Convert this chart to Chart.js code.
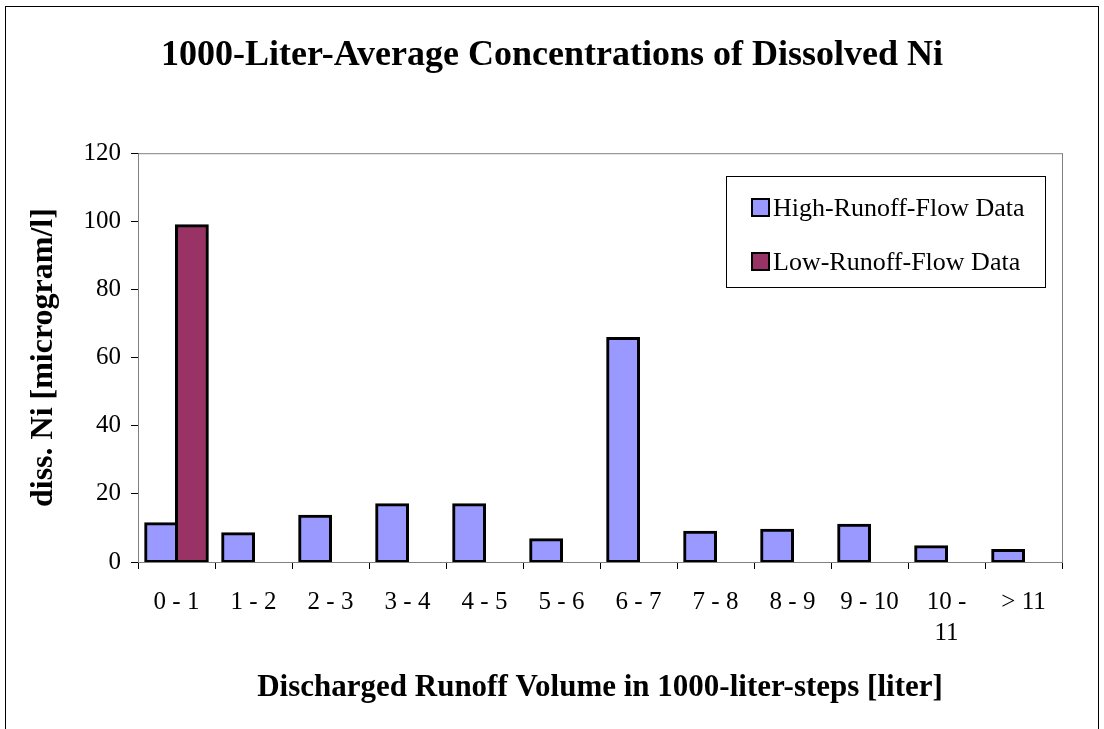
<!DOCTYPE html>
<html>
<head>
<meta charset="utf-8">
<script src="https://cdn.jsdelivr.net/npm/chart.js@4"></script>
<style>
  html, body { margin: 0; padding: 0; background: #fff; }
  #wrap { width: 1104px; height: 729px; position: relative; }
</style>
</head>
<body>
<div id="wrap"><canvas id="niChart"></canvas></div>
<script>
  const categories = ['0 - 1', '1 - 2', '2 - 3', '3 - 4', '4 - 5', '5 - 6', '6 - 7', '7 - 8', '8 - 9', '9 - 10', ['10 -', '11'], '> 11'];
  const highFlow = [11.2, 8.3, 13.4, 16.8, 16.8, 6.5, 65.6, 8.7, 9.3, 10.8, 4.5, 3.4];
  const lowFlow = [98.7, null, null, null, null, null, null, null, null, null, null, null];
  const yTicks = [0, 20, 40, 60, 80, 100, 120];

  const serif = '"Liberation Serif", "Times New Roman", serif';
  Chart.defaults.font.family = serif;
  Chart.defaults.color = '#000';

  // frame round the whole chart, plot box and the boxed legend
  const frame = {
    id: 'frame',
    beforeDatasetsDraw(chart) {
      const { ctx, chartArea: a } = chart;
      ctx.save();
      ctx.strokeStyle = '#808080';
      ctx.lineWidth = 1;
      ctx.strokeRect(a.left + 0.5, a.top + 0.5, a.right - a.left, a.bottom - a.top);
      ctx.restore();
    },
    afterDraw(chart) {
      const { ctx } = chart;
      ctx.save();
      ctx.strokeStyle = '#000';
      ctx.lineWidth = 1;
      ctx.strokeRect(5.5, 6.5, 1093, 740);

      // legend
      ctx.strokeRect(726.5, 176.5, 319, 111);
      ctx.font = '26px ' + serif;
      ctx.textBaseline = 'middle';
      const rows = [208, 262];
      chart.data.datasets.forEach((ds, i) => {
        const y = rows[i];
        ctx.fillStyle = ds.backgroundColor;
        ctx.fillRect(752, y - 9, 17, 17);
        ctx.lineWidth = 2;
        ctx.strokeRect(752, y - 9, 17, 17);
        ctx.fillStyle = '#000';
        ctx.fillText(ds.label, 773, y + 1);
      });
      ctx.restore();
    }
  };

  new Chart(document.getElementById('niChart'), {
    type: 'bar',
    data: {
      labels: categories,
      datasets: [
        {
          label: 'High-Runoff-Flow Data',
          data: highFlow,
          backgroundColor: '#9999FF',
          borderColor: '#000',
          borderWidth: 3,
          borderSkipped: false,
          inflateAmount: 1.5
        },
        {
          label: 'Low-Runoff-Flow Data',
          data: lowFlow,
          backgroundColor: '#993366',
          borderColor: '#000',
          borderWidth: 3,
          borderSkipped: false,
          inflateAmount: 1.5
        }
      ]
    },
    options: {
      responsive: true,
      maintainAspectRatio: false,
      animation: false,
      layout: { padding: 0 },
      datasets: { bar: { categoryPercentage: 0.8, barPercentage: 1.0 } },
      plugins: {
        legend: { display: false },
        tooltip: { enabled: false },
        title: {
          display: true,
          text: '1000-Liter-Average Concentrations of Dissolved Ni',
          font: { size: 36, weight: 'bold' },
          color: '#000',
          padding: { top: 34, bottom: 76 }
        }
      },
      scales: {
        x: {
          afterFit: (s) => { s.height = 167; },
          grid: { offset: true, drawOnChartArea: false, color: '#000', tickLength: 7, tickColor: '#000' },
          border: { color: '#000', width: 1 },
          ticks: { font: { size: 25, lineHeight: 1.25 }, padding: 18, maxRotation: 0, autoSkip: false },
          title: {
            display: true,
            text: 'Discharged Runoff Volume in 1000-liter-steps [liter]',
            font: { size: 31, weight: 'bold' },
            padding: { top: 0, bottom: 22 }
          }
        },
        y: {
          min: 0,
          max: 120,
          afterFit: (s) => { s.width = 138; },
          afterBuildTicks: (s) => { s.ticks = yTicks.map(v => ({ value: v })); },
          grid: { drawOnChartArea: false, color: '#000', tickLength: 7, tickColor: '#000' },
          border: { color: '#000', width: 1 },
          ticks: { font: { size: 25 }, padding: 10 },
          title: {
            display: true,
            text: 'diss. Ni [microgram/l]',
            font: { size: 32, weight: 'bold' },
            padding: { top: 25, bottom: 0 }
          }
        },
        // empty right margin so the title stays centred on the whole page
        yRight: {
          position: 'right',
          min: 0,
          max: 120,
          afterFit: (s) => { s.width = 42; },
          grid: { display: false },
          border: { display: false },
          ticks: { display: false }
        }
      }
    },
    plugins: [frame]
  });
</script>
</body>
</html>
